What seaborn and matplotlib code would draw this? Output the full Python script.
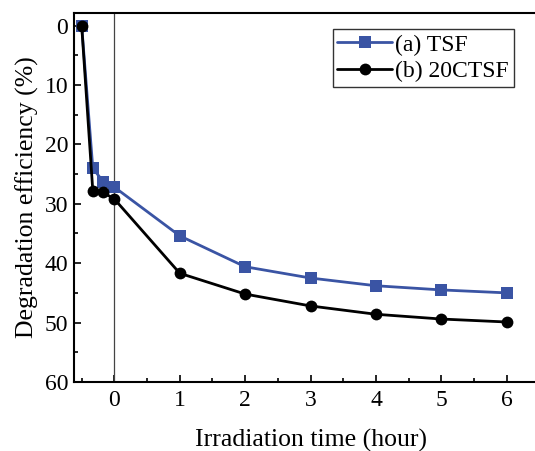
import pandas as pd
import numpy as np
import seaborn as sns
import matplotlib.pyplot as plt
from matplotlib.ticker import MultipleLocator

time = [-0.5, -0.33, -0.17, 0, 1, 2, 3, 4, 5, 6]
tsf = [0, 24.0, 26.3, 27.2, 35.4, 40.6, 42.5, 43.8, 44.5, 45.0]
ctsf = [0, 27.8, 28.1, 29.2, 41.7, 45.2, 47.2, 48.6, 49.4, 49.9]
labels = ["(a) TSF", "(b) 20CTSF"]

df = pd.concat([
    pd.DataFrame({"time": time, "eff": tsf, "sample": labels[0]}),
    pd.DataFrame({"time": time, "eff": ctsf, "sample": labels[1]}),
])

sns.set_style("ticks")
plt.rcParams["font.family"] = ["Liberation Serif", "DejaVu Serif"]
plt.rcParams["xtick.direction"] = "in"
plt.rcParams["ytick.direction"] = "in"
for k in ["text.color", "axes.labelcolor", "xtick.color", "ytick.color", "axes.edgecolor"]:
    plt.rcParams[k] = "black"

fig = plt.figure(figsize=(5.35, 4.51), dpi=100)
ax = fig.add_axes([0.138, 0.153, 0.885, 0.818])

ax.axvline(0, color="#444444", lw=0.9, zorder=1)
sns.lineplot(df, x="time", y="eff", hue="sample", style="sample",
             palette=["#3A54A4", "black"], markers=["s", "o"], dashes=False,
             markersize=8.5, markeredgewidth=0, lw=2, ax=ax, zorder=3)

ax.set_xlim(-0.62, 6.62)
ax.set_ylim(60, -2.1)
ax.set_xticks(range(0, 7))
ax.set_yticks(range(0, 61, 10))
ax.xaxis.set_minor_locator(MultipleLocator(0.5))
ax.yaxis.set_minor_locator(MultipleLocator(5))
ax.tick_params(which="major", length=5, width=1.2, labelsize=17, top=False, right=False)
ax.tick_params(axis="x", which="major", pad=6)
ax.tick_params(axis="y", which="major", pad=4)
ax.tick_params(which="minor", length=3, width=1.2, top=False, right=False)
for s in ax.spines.values():
    s.set_linewidth(1.5)

ax.set_xlabel("Irradiation time (hour)", fontsize=18.5, labelpad=13)
ax.set_ylabel("Degradation efficiency (%)", fontsize=18.5, labelpad=4)

leg = ax.legend(loc="upper right", bbox_to_anchor=(0.929, 0.956), fontsize=17,
                frameon=True, fancybox=False, edgecolor="black",
                handlelength=2.3, borderpad=0.2, labelspacing=0.2,
                handletextpad=0.15, borderaxespad=0)
leg.get_frame().set_linewidth(1.0)

fig.savefig("out.png", dpi=100)
